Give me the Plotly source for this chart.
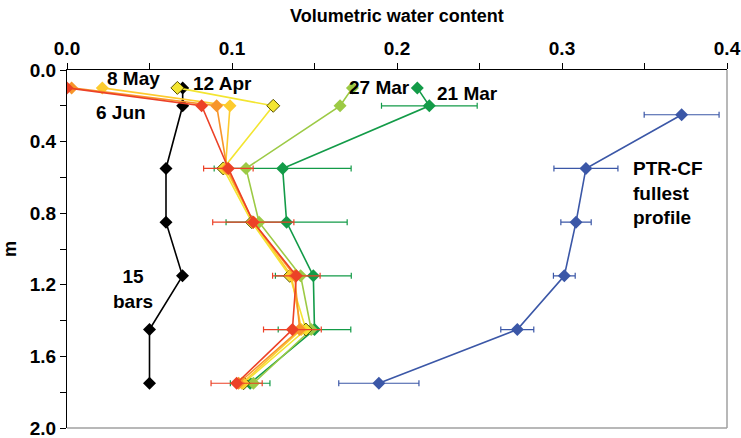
import plotly.graph_objects as go

depths = [0.1, 0.2, 0.55, 0.85, 1.15, 1.45, 1.75]
blue_depths = [0.25, 0.55, 0.85, 1.15, 1.45, 1.75]

red_6jun = [0.0, 0.0816, 0.0978, 0.1129, 0.139, 0.1366, 0.1028]
red_err = [None, None, 0.015, 0.0246, 0.0144, 0.0175, 0.0155]
orange = [0.0028, 0.0907, 0.097, 0.113, 0.138, 0.141, 0.104]
gold_8may = [0.0214, 0.0988, 0.096, 0.113, 0.136, 0.142, 0.106]
yellow_12apr = [0.0669, 0.125, 0.0947, 0.112, 0.135, 0.1448, 0.107]
lgreen_27mar = [0.173, 0.1655, 0.1085, 0.1164, 0.1416, 0.148, 0.113]
dgreen_21mar = [0.2123, 0.2196, 0.1307, 0.1331, 0.1493, 0.150, 0.111]
dgreen_err = [None, 0.029, 0.0415, 0.0367, 0.023, 0.022, 0.012]
black_15bars = [0.0701, 0.0701, 0.060, 0.060, 0.070, 0.050, 0.050]
blue_ptr = [0.3725, 0.3145, 0.3085, 0.3014, 0.2729, 0.189]
blue_err = [0.0227, 0.0194, 0.0092, 0.0066, 0.01, 0.0243]

FONT = "Liberation Sans, Arial, sans-serif"

fig = go.Figure()

def add(x, y, color, name, err=None, outline=None, size=10):
    kw = {}
    if err is not None:
        kw["error_x"] = dict(type="data", array=err, visible=True, color=color,
                             thickness=1.2, width=3)
    fig.add_trace(go.Scatter(
        x=x, y=y, mode="lines+markers", name=name,
        line=dict(color=color, width=1.6),
        marker=dict(symbol="diamond", size=size, color=color,
                    line=dict(color=outline if outline else color, width=1 if outline else 0)),
        **kw))

add(blue_ptr, blue_depths, "#3B57A7", "PTR-CF fullest profile", err=blue_err)
add(black_15bars, depths, "#000000", "15 bars")
add(dgreen_21mar, depths, "#139B48", "21 Mar", err=dgreen_err)
add(lgreen_27mar, depths, "#9CCA45", "27 Mar")
add(yellow_12apr, depths, "#F3E531", "12 Apr", outline="#5a5200")
add(gold_8may, depths, "#FDCB2E", "8 May")
add(orange, depths, "#F7952B", "orange")
add(red_6jun, depths, "#EC4127", "6 Jun", err=red_err)

ann_font = dict(family=FONT, size=19, color="black", weight="bold")
labels = [
    ("8 May", 0.040, 0.045, "center"),
    ("12 Apr", 0.094, 0.078, "center"),
    ("6 Jun", 0.0327, 0.235, "center"),
    ("27 Mar", 0.1893, 0.10, "center"),
    ("21 Mar", 0.243, 0.129, "center"),
    ("15<br>bars", 0.040, 1.225, "center"),
    ("PTR-CF<br>fullest<br>profile", 0.3418, 0.688, "left"),
]
for txt, x, y, al in labels:
    fig.add_annotation(x=x, y=y, xref="x", yref="y", text=txt, showarrow=False,
                       font=ann_font, align=al,
                       xanchor="left" if al == "left" else "center", yanchor="middle")

title_font = dict(family=FONT, size=18, color="black", weight="bold")
fig.add_annotation(x=0.5, y=1.1508, xref="paper", yref="paper",
                   text="Volumetric water content", showarrow=False,
                   font=title_font, xanchor="center", yanchor="middle")

# gray right and bottom frame lines
fig.add_shape(type="line", xref="paper", yref="paper", x0=1, x1=1, y0=0, y1=1,
              line=dict(color="#A0A0A0", width=1.5))
fig.add_shape(type="line", xref="paper", yref="paper", x0=0, x1=1, y0=0, y1=0,
              line=dict(color="#A0A0A0", width=1.5))

tick_font = dict(family=FONT, size=19, color="black", weight="bold")
fig.update_layout(
    width=741, height=438,
    margin=dict(l=67, r=14, t=70, b=10),
    paper_bgcolor="white", plot_bgcolor="white",
    showlegend=False,
    xaxis=dict(range=[0, 0.4], side="top", dtick=0.1, tickformat=".1f",
               ticks="outside", ticklen=6, tickcolor="black", automargin=False,
               ticklabeloverflow="allow",
               showline=True, linecolor="black", linewidth=1,
               showgrid=False, zeroline=False, tickfont=tick_font,
               minor=dict(dtick=0.05, ticks="outside", ticklen=6, tickcolor="black")),
    yaxis=dict(range=[2.0, 0.0], dtick=0.4, tickformat=".1f",
               ticks="outside", ticklen=6, tickcolor="black", automargin=False,
               ticklabeloverflow="allow",
               showline=True, linecolor="black", linewidth=1,
               showgrid=False, zeroline=False, tickfont=tick_font,
               minor=dict(dtick=0.2, ticks="outside", ticklen=6, tickcolor="black"),
               title=dict(text="m", font=title_font, standoff=10)),
)

fig.write_html("out.html")
